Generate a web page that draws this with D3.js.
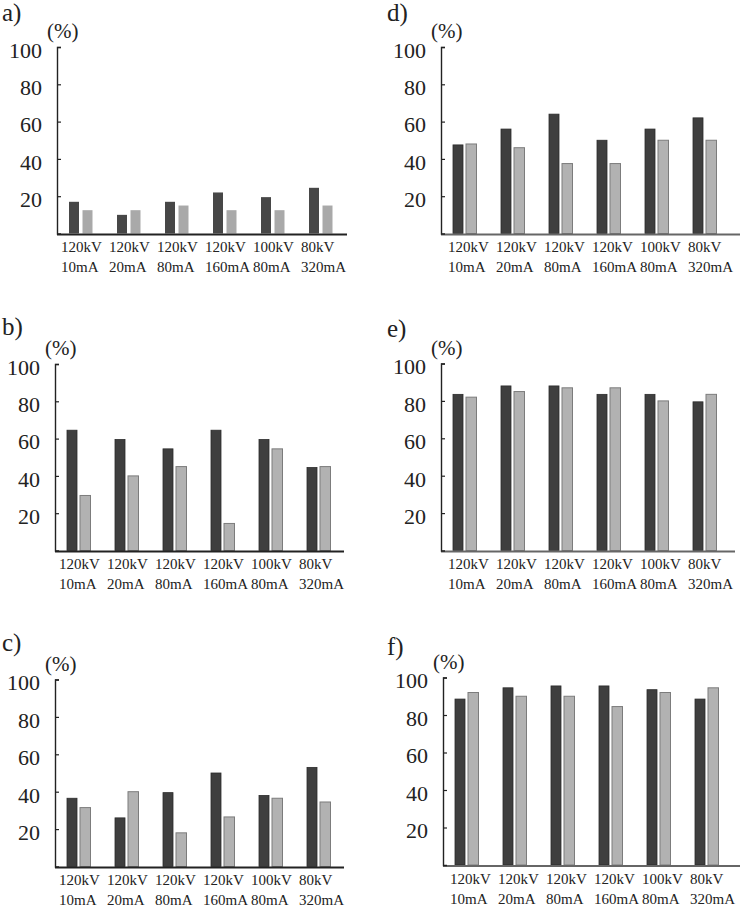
<!DOCTYPE html>
<html>
<head>
<meta charset="utf-8">
<script src="https://cdn.jsdelivr.net/npm/d3@7/dist/d3.min.js"></script>
<style>
  html, body { margin: 0; padding: 0; background: #ffffff; }
  svg { display: block; }
  svg text { font-family: "Liberation Serif", "Times New Roman", serif; fill: #222; }
</style>
</head>
<body>
<svg id="chart" width="740" height="908"></svg>
<script>
// ---- data ----
const categoriesKV = ["120kV", "120kV", "120kV", "120kV", "100kV", "80kV"];
const categoriesMA = ["10mA", "20mA", "80mA", "160mA", "80mA", "320mA"];
const yTickValues = [20, 40, 60, 80, 100];
const panelLabels = ["a)", "b)", "c)", "d)", "e)", "f)"];
const unitLabel = "(%)";

const darkA  = [17, 10, 17, 22, 19.5, 24.5];
const lightA = [12.5, 12.5, 15, 12.5, 12.5, 15];
const darkB  = [64.5, 59.5, 54.5, 64.5, 59.5, 44.5];
const lightB = [29.5, 40, 45, 14.5, 54.5, 45];
const darkC  = [36.5, 26, 39.5, 50, 38, 53];
const lightC = [31.5, 40, 18, 26.5, 36.5, 34.5];
const darkD  = [47.5, 56, 64, 50, 56, 62];
const lightD = [48, 46, 37.5, 37.5, 50, 50];
const darkE  = [83.5, 88, 88, 83.5, 83.5, 79.5];
const lightE = [82, 85, 87, 87, 80, 83.5];
const darkF  = [88.5, 94.5, 95.5, 95.5, 93.5, 88.5];
const lightF = [92, 90, 90, 84.5, 92, 94.5];

// ---- layout (positions/styles only) ----
const panels = [
  { label: panelLabels[0], dark: darkA, light: lightA, ax: 57, yTop: 47,    y0: 233.5, xEnd: 347, lx: 2,   ly: 21,  plain: true,  xAxisColor: "#222", lblOff: 4 },
  { label: panelLabels[1], dark: darkB, light: lightB, ax: 55, yTop: 364,   y0: 550.5, xEnd: 344, lx: 2,   ly: 335, plain: false, xAxisColor: "#222", lblOff: 4 },
  { label: panelLabels[2], dark: darkC, light: lightC, ax: 55, yTop: 679.5, y0: 866.5, xEnd: 344, lx: 2,   ly: 651, plain: false, xAxisColor: "#222", lblOff: 4 },
  { label: panelLabels[3], dark: darkD, light: lightD, ax: 441, yTop: 47,   y0: 233.5, xEnd: 740, lx: 387, ly: 21,  plain: false, xAxisColor: "#666", lblOff: 7 },
  { label: panelLabels[4], dark: darkE, light: lightE, ax: 441, yTop: 363.5,y0: 550.5, xEnd: 735, lx: 387, ly: 337, plain: false, xAxisColor: "#666", lblOff: 7 },
  { label: panelLabels[5], dark: darkF, light: lightF, ax: 443, yTop: 677.5,y0: 865,   xEnd: 740, lx: 387, ly: 655, plain: false, xAxisColor: "#666", lblOff: 7 }
];

const FONT = "'Liberation Serif', 'Times New Roman', serif";
const svg = d3.select("#chart");

panels.forEach(p => {
  const g = svg.append("g");
  const idx = d3.range(categoriesKV.length);

  const x = d3.scaleBand().domain(idx).range([p.ax, p.ax + 48 * idx.length]).padding(0);
  const y = d3.scaleLinear().domain([0, 100]).range([p.y0, p.yTop]);

  // bars
  const barW = 10;
  g.selectAll("rect.dark").data(p.dark).enter().append("rect")
    .attr("class", "dark")
    .attr("x", (d, i) => x(i) + x.bandwidth() / 2 - 12)
    .attr("width", barW)
    .attr("y", d => y(d))
    .attr("height", d => y(0) - y(d))
    .attr("fill", p.plain ? "#474747" : "#3f3f3f")
    .attr("stroke", p.plain ? "none" : "#2c2c2c")
    .attr("stroke-width", 0.8);

  g.selectAll("rect.light").data(p.light).enter().append("rect")
    .attr("class", "light")
    .attr("x", (d, i) => x(i) + x.bandwidth() / 2 + (p.plain ? 1.5 : 1))
    .attr("width", p.plain ? barW : 10.5)
    .attr("y", d => y(d))
    .attr("height", d => y(0) - y(d))
    .attr("fill", p.plain ? "#a9a9a9" : "#b2b2b2")
    .attr("stroke", p.plain ? "none" : "#7c7c7c")
    .attr("stroke-width", 1);

  // x axis line
  g.append("line")
    .attr("x1", p.ax).attr("x2", p.xEnd)
    .attr("y1", p.y0 + 1).attr("y2", p.y0 + 1)
    .attr("stroke", p.xAxisColor).attr("stroke-width", 2);

  // y axis
  const yAxis = d3.axisLeft(y)
    .tickValues(yTickValues)
    .tickSizeInner(-4)
    .tickSizeOuter(-4)
    .tickPadding(15)
    .tickFormat(d3.format("d"));
  const ya = g.append("g")
    .attr("transform", `translate(${p.ax},0)`)
    .call(yAxis)
    .attr("font-family", FONT)
    .attr("font-size", 22);
  ya.select(".domain").attr("stroke", "#222").attr("stroke-width", 1.4);
  ya.selectAll(".tick line").attr("stroke", "#222").attr("stroke-width", 1.2);
  ya.selectAll(".tick text")
    .attr("dy", "0.47em")
    .style("font-family", FONT)
    .style("font-size", "22px")
    .attr("fill", "#222");

  // category labels
  g.selectAll("text.kv").data(categoriesKV).enter().append("text")
    .attr("class", "kv")
    .attr("x", (d, i) => x(i) + p.lblOff)
    .attr("y", p.y0 + 18.5)
    .style("font-family", FONT)
    .style("font-size", "15px")
    .text(d => d);
  g.selectAll("text.ma").data(categoriesMA).enter().append("text")
    .attr("class", "ma")
    .attr("x", (d, i) => x(i) + p.lblOff)
    .attr("y", p.y0 + 38.5)
    .style("font-family", FONT)
    .style("font-size", "15px")
    .text(d => d);

  // unit label
  g.append("text")
    .attr("x", p.ax - 10)
    .attr("y", p.yTop - 9)
    .style("font-family", FONT)
    .style("font-size", "21px")
    .text(unitLabel);

  // panel letter
  g.append("text")
    .attr("x", p.lx)
    .attr("y", p.ly)
    .style("font-family", FONT)
    .style("font-size", "25px")
    .text(p.label);
});
</script>
</body>
</html>
